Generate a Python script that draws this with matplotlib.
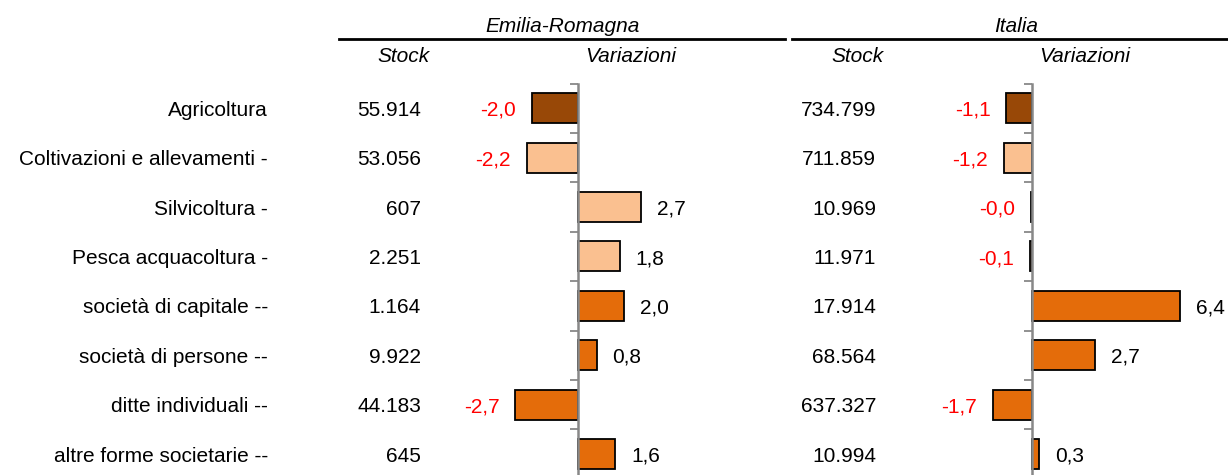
import numpy as np
import matplotlib
matplotlib.use("Agg")
import matplotlib.pyplot as plt
from matplotlib.lines import Line2D
from matplotlib.transforms import blended_transform_factory

plt.rcParams["font.family"] = ["Liberation Sans", "DejaVu Sans"]

categories = [
    "Agricoltura",
    "Coltivazioni e allevamenti -",
    "Silvicoltura -",
    "Pesca acquacoltura -",
    "società di capitale --",
    "società di persone --",
    "ditte individuali --",
    "altre forme societarie --",
]
stock_er = [55914, 53056, 607, 2251, 1164, 9922, 44183, 645]
var_er = [-2.0, -2.2, 2.7, 1.8, 2.0, 0.8, -2.7, 1.6]
stock_it = [734799, 711859, 10969, 11971, 17914, 68564, 637327, 10994]
var_it = [-1.1, -1.2, -0.04, -0.1, 6.4, 2.7, -1.7, 0.3]

bar_colors = ["#984807", "#FAC090", "#FAC090", "#FAC090",
              "#E46C0A", "#E46C0A", "#E46C0A", "#E46C0A"]

W, H = 1228, 475
FS = 15
fig = plt.figure(figsize=(W / 100, H / 100), dpi=100)

PX = 23.2          # pixels per unit of variation
ROW = 49.4         # pixels per row
TOP = 83.5         # pixel y of the top of the first row
BASE = 0.155       # baseline offset (rows) so text is centred on the bar


def fx(px):
    return px / W


def fy(py):
    return 1 - py / H


def fmt_stock(v):
    return f"{v:,}".replace(",", ".")


def fmt_var(v):
    return f"{v:.1f}".replace(".", ",")


def var_panel(left_px, zero_px, right_px, values):
    n = len(values)
    bottom_px = TOP + n * ROW
    ax = fig.add_axes([fx(left_px), fy(bottom_px),
                       fx(right_px - left_px), (bottom_px - TOP) / H])
    ax.set_xlim(-(zero_px - left_px) / PX, (right_px - zero_px) / PX)
    ax.set_ylim(n - 0.5, -0.5)
    y = np.arange(n)
    ax.barh(y, values, height=0.61, color=bar_colors,
            edgecolor="black", linewidth=1.3, zorder=2)
    for sp in ["top", "right", "bottom"]:
        ax.spines[sp].set_visible(False)
    ax.spines["left"].set_position(("data", 0))
    ax.spines["left"].set_color("#888888")
    ax.spines["left"].set_linewidth(1.8)
    ax.spines["left"].set_zorder(3)
    ax.set_xticks([])
    ax.set_yticks(np.arange(-0.5, n, 1.0))
    ax.set_yticklabels([])
    ax.tick_params(axis="y", direction="out", length=6, width=1.3,
                   color="#888888")
    off = 16 / PX
    for yi, v in zip(y, values):
        if v < 0:
            ax.text(v - off, yi + BASE, fmt_var(v), ha="right", va="baseline",
                    fontsize=FS, color="#FF0000")
        else:
            ax.text(v + off, yi + BASE, fmt_var(v), ha="left", va="baseline",
                    fontsize=FS, color="black")
    ax.patch.set_visible(False)
    return ax


ax_er = var_panel(440, 578, 790, var_er)
ax_it = var_panel(940, 1032, 1228, var_it)

# row labels and stock columns
tr = blended_transform_factory(fig.transFigure, ax_er.transData)
for i, (cat, s1, s2) in enumerate(zip(categories, stock_er, stock_it)):
    ax_er.text(fx(268), i + BASE, cat, transform=tr, ha="right",
               va="baseline", fontsize=FS)
    ax_er.text(fx(421), i + BASE, fmt_stock(s1), transform=tr, ha="right",
               va="baseline", fontsize=FS)
    ax_er.text(fx(876), i + BASE, fmt_stock(s2), transform=tr, ha="right",
               va="baseline", fontsize=FS)

# headers
fig.text(fx(563), fy(32), "Emilia-Romagna", ha="center", va="baseline",
         fontsize=FS, style="italic")
fig.text(fx(1016), fy(32), "Italia", ha="center", va="baseline",
         fontsize=FS, style="italic")
fig.add_artist(Line2D([fx(339), fx(785)], [fy(39), fy(39)],
                      color="black", linewidth=2))
fig.add_artist(Line2D([fx(792), fx(1228)], [fy(39), fy(39)],
                      color="black", linewidth=2))
for xp, t in [(404, "Stock"), (631, "Variazioni"),
              (858, "Stock"), (1085, "Variazioni")]:
    fig.text(fx(xp), fy(62), t, ha="center", va="baseline",
             fontsize=FS, style="italic")

fig.savefig("out.png", dpi=100)
